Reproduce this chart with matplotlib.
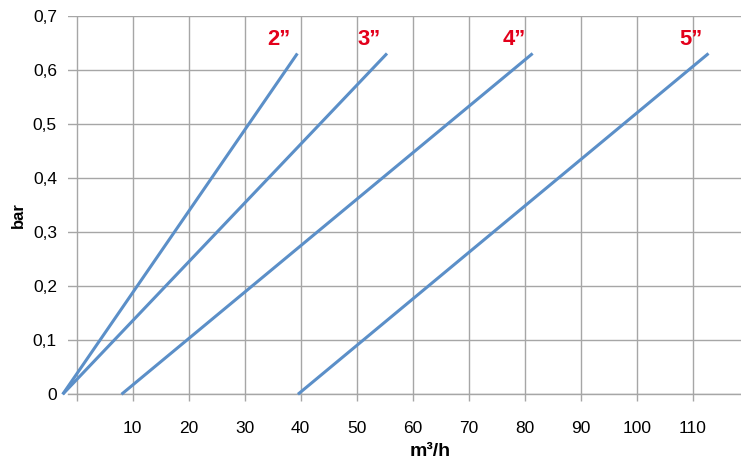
import matplotlib
matplotlib.use("Agg")
import matplotlib.pyplot as plt

plt.rcParams['font.family'] = ['Liberation Sans', 'DejaVu Sans']

# Data
sizes = ['2”', '3”', '4”', '5”']
flow_start = [-2.5, -2.5, 8.0, 39.5]
flow_end = [39.4, 55.4, 81.4, 112.8]
bar_start = [0.0, 0.0, 0.0, 0.0]
bar_end = [0.63, 0.63, 0.63, 0.63]
x_ticks = [0, 10, 20, 30, 40, 50, 60, 70, 80, 90, 100, 110]
x_tick_labels = ['', '10', '20', '30', '40', '50', '60', '70', '80', '90', '100', '110']
y_ticks = [0, 0.1, 0.2, 0.3, 0.4, 0.5, 0.6, 0.7]
y_tick_labels = ['0', '0,1', '0,2', '0,3', '0,4', '0,5', '0,6', '0,7']

W, H = 741, 459
fig = plt.figure(figsize=(W / 100, H / 100), dpi=100)
ax = fig.add_axes([68 / W, 1 - 394.3 / H, 673 / W, (394.3 - 15.6) / H])

line_color = '#5B8FC8'
grid_color = '#A6A6A6'
red = '#E3001B'

for name, x0, x1, y0, y1 in zip(sizes, flow_start, flow_end, bar_start, bar_end):
    ax.plot([x0, x1], [y0, y1], color=line_color, lw=2.2, clip_on=False,
            solid_capstyle='butt', zorder=3)
    ax.annotate(name, xy=(x1, y1), xytext=(-18, 14), textcoords='offset pixels',
                ha='center', va='center', color=red, fontsize=15.8,
                fontweight='bold', annotation_clip=False)

ax.set_xlim(-1.55, 118.6)
ax.set_ylim(0, 0.7)
ax.set_xticks(x_ticks)
ax.set_xticklabels(x_tick_labels)
ax.set_yticks(y_ticks)
ax.set_yticklabels(y_tick_labels)

ax.grid(True, color=grid_color, lw=1)
ax.set_axisbelow(True)
for s in ['left', 'right', 'top']:
    ax.spines[s].set_visible(False)
ax.spines['bottom'].set_color(grid_color)
ax.spines['bottom'].set_linewidth(1)

ax.tick_params(axis='x', length=5, width=1, color=grid_color, pad=14,
               labelsize=12.5, labelcolor='black')
ax.tick_params(axis='y', length=0, pad=8, labelsize=12.5, labelcolor='black')

fig.text(430.5 / W, 1 - 451 / H, 'm³/h', ha='center', va='center',
         fontsize=14, fontweight='bold')
fig.text(18 / W, 1 - 214.7 / H, 'bar', ha='center', va='center', rotation=90,
         fontsize=12, fontweight='bold')

fig.savefig('out.png', dpi=100)
